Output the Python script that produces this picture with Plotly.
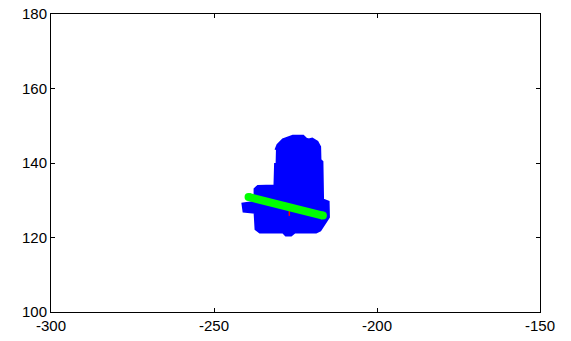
import plotly.graph_objects as go

# Outline of the dense blue point cloud
blob_x = [-231.0, -230.4, -228.8, -226.7, -225.8, -222.7, -221.8, -220.9, -219.9, -218.4,
          -217.6, -217.5, -216.9, -216.7, -215.0, -214.9, -216.0, -217.5, -218.7, -225.2,
          -226.4, -227.9, -228.8, -235.9, -237.1, -237.4, -240.8, -241.1, -237.4, -237.4,
          -236.5, -231.3, -231.1]
blob_y = [143.5, 144.8, 146.2, 147.0, 147.2, 147.2, 146.4, 146.2, 146.4, 145.6,
          144.3, 140.8, 140.3, 130.1, 129.5, 125.5, 123.9, 122.0, 121.5, 121.5,
          120.7, 120.7, 121.5, 121.5, 122.3, 126.8, 127.1, 129.0, 129.5, 133.0,
          133.7, 133.8, 140.0]

# Fitted green line
line_x = [-239.4, -216.6]
line_y = [130.9, 125.9]

# Small red mark (mostly hidden under the green line)
red_x = [-226.9, -226.9]
red_y = [128.8, 125.8]

x_ticks = [-300, -250, -200, -150]
y_ticks = [100, 120, 140, 160, 180]

fig = go.Figure()
fig.add_trace(go.Scatter(x=blob_x, y=blob_y, mode="lines", fill="toself",
                         fillcolor="#0000ff", line=dict(color="#0000ff", width=3),
                         hoverinfo="skip", showlegend=False))
fig.add_trace(go.Scatter(x=red_x, y=red_y, mode="lines",
                         line=dict(color="#ff0000", width=1.5), showlegend=False))
fig.add_trace(go.Scatter(x=line_x, y=line_y, mode="lines+markers",
                         line=dict(color="#00ff00", width=8),
                         marker=dict(color="#00ff00", size=8),
                         showlegend=False))

axis_common = dict(showline=True, linecolor="black", linewidth=1, mirror="ticks",
                   ticks="inside", ticklen=4, tickcolor="black", showgrid=False,
                   zeroline=False, automargin=False,
                   tickfont=dict(family="Liberation Sans, Arial, sans-serif", size=15, color="black"))
fig.update_xaxes(range=[-300, -150], tickvals=x_ticks, ticktext=[str(v) for v in x_ticks], **axis_common)
fig.update_yaxes(range=[100, 180], tickvals=y_ticks, ticktext=[str(v) for v in y_ticks], **axis_common)
fig.update_layout(width=571, height=341, margin=dict(l=51, r=31, t=14, b=29),
                  plot_bgcolor="white", paper_bgcolor="white")
fig.write_html("out.html", config={"displayModeBar": False},
               post_script="document.body.style.margin='0';")
